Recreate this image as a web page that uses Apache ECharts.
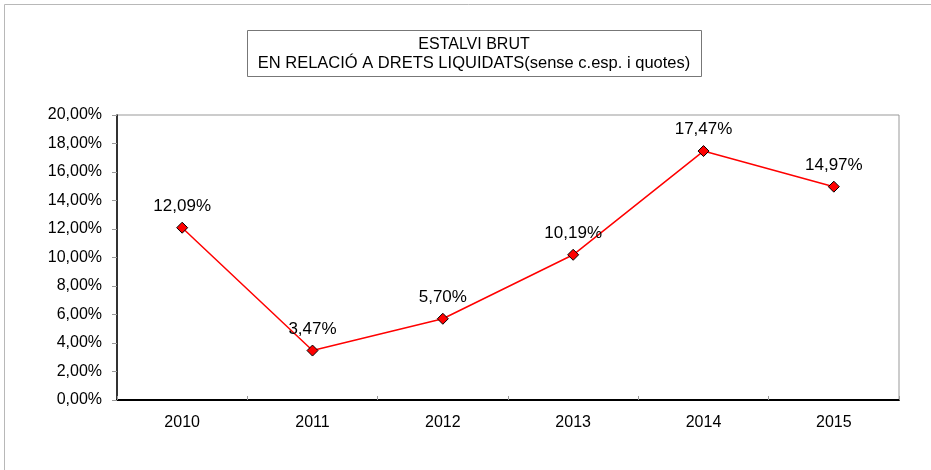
<!DOCTYPE html>
<html>
<head>
<meta charset="utf-8">
<script src="https://cdn.jsdelivr.net/npm/echarts@6/dist/echarts.min.js"></script>
<style>
  html, body { margin: 0; padding: 0; background: #fff; }
  #chart { width: 931px; height: 470px; }
</style>
</head>
<body>
<div id="chart"></div>
<script>
// dades del gràfic
var years = ["2010", "2011", "2012", "2013", "2014", "2015"];
var estalvi = [12.09, 3.47, 5.70, 10.19, 17.47, 14.97];
var titleLines = ["ESTALVI BRUT", "EN RELACIÓ A DRETS LIQUIDATS(sense c.esp. i quotes)"];

var FONT = "Liberation Sans, Arial, sans-serif";

function pct(v) {
  return v.toFixed(2).replace(".", ",") + "%";
}

var chart = echarts.init(document.getElementById("chart"));
chart.setOption({
  animation: false,
  textStyle: { fontFamily: FONT },
  graphic: [
    {
      // marc exterior
      type: "rect",
      shape: { x: 4.5, y: 4.5, width: 1200, height: 1200 },
      style: { fill: null, stroke: "#b8b8b8", lineWidth: 1 },
      silent: true
    },
    {
      // caixa del títol
      type: "rect",
      shape: { x: 247.5, y: 30.5, width: 454, height: 46 },
      style: { fill: "#fff", stroke: "#777", lineWidth: 1 },
      silent: true
    },
    {
      type: "text",
      x: 474,
      y: 45,
      style: {
        text: titleLines[0],
        font: "16px " + FONT,
        fill: "#000",
        textAlign: "center",
        textVerticalAlign: "middle"
      },
      silent: true
    },
    {
      type: "text",
      x: 474,
      y: 63,
      style: {
        text: titleLines[1],
        font: "16.5px " + FONT,
        fill: "#000",
        textAlign: "center",
        textVerticalAlign: "middle"
      },
      silent: true
    }
  ],
  grid: {
    left: 117,
    right: 32,
    top: 115,
    bottom: 70,
    show: true,
    borderColor: "#999",
    borderWidth: 1
  },
  xAxis: {
    type: "category",
    data: years,
    boundaryGap: true,
    axisLine: { lineStyle: { color: "#000", width: 2 } },
    axisTick: { show: true, inside: true, length: 4, lineStyle: { color: "#999" } },
    axisLabel: { fontSize: 16, color: "#000", margin: 15 },
    splitLine: { show: false }
  },
  yAxis: {
    type: "value",
    min: 0,
    max: 20,
    interval: 2,
    axisLine: { show: true, lineStyle: { color: "#000", width: 1.5 } },
    axisTick: { show: true, length: 5, lineStyle: { color: "#999" } },
    axisLabel: { fontSize: 16, color: "#000", margin: 15, formatter: pct },
    splitLine: { show: false }
  },
  series: [
    {
      type: "line",
      data: estalvi,
      symbol: "diamond",
      symbolSize: 11,
      lineStyle: { color: "#ff0000", width: 1.5 },
      itemStyle: { color: "#ff0000", borderColor: "#000", borderWidth: 1 },
      label: {
        show: true,
        position: "top",
        distance: 7,
        fontSize: 17,
        color: "#000",
        formatter: function (p) { return pct(p.value); }
      }
    }
  ]
});
</script>
</body>
</html>
